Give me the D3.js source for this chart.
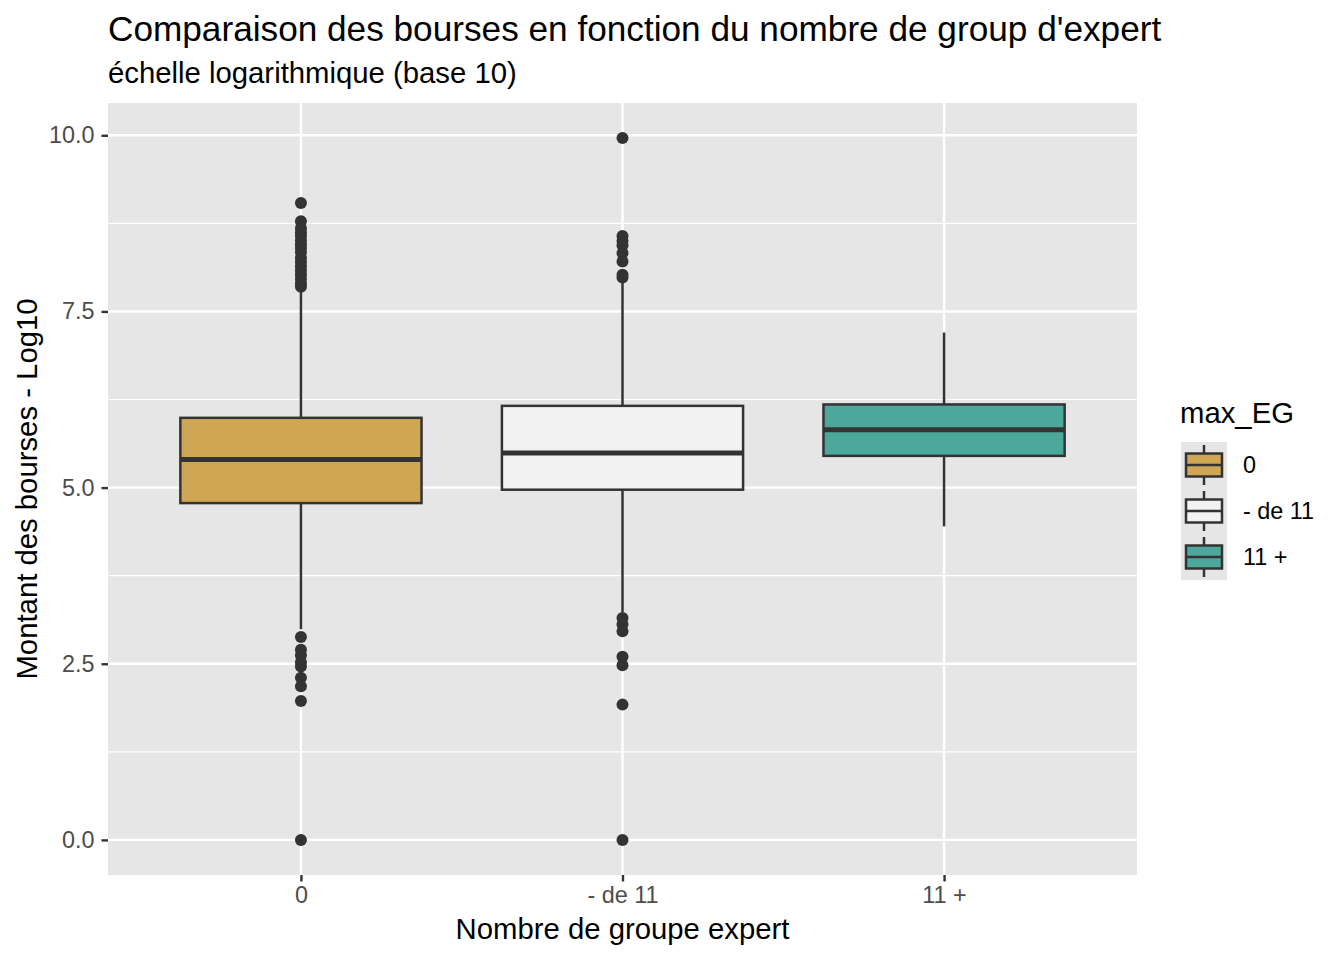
<!DOCTYPE html>
<html><head><meta charset="utf-8">
<script src="https://cdn.jsdelivr.net/npm/d3@7"></script>
<style>body{margin:0;background:#fff}svg{display:block}text{font-family:"Liberation Sans",Arial,Helvetica,sans-serif}</style>
</head><body><svg id="c" width="1344" height="960"></svg>
<script>
// ---- data ----
const categories = ["0", "- de 11", "11 +"];
const fillColors = ["#CFA654", "#F2F2F2", "#4BA89A"];
const whiskerLow = [2.99, 3.23, 4.45];
const q1 = [4.78, 4.97, 5.45];
const median = [5.40, 5.49, 5.82];
const q3 = [5.99, 6.16, 6.18];
const whiskerHigh = [7.81, 7.91, 7.20];
const outliers0 = [9.04, 8.78, 8.68, 8.62, 8.57, 8.51, 8.45, 8.40, 8.34, 8.26, 8.20, 8.14, 8.08, 8.02, 7.96, 7.90, 7.85, 2.88, 2.70, 2.62, 2.52, 2.46, 2.30, 2.18, 1.97, 0.0];
const outliers1 = [9.96, 8.57, 8.50, 8.44, 8.33, 8.21, 8.02, 7.98, 3.15, 3.06, 2.96, 2.60, 2.48, 1.92, 0.0];
const outliers2 = [];
const yTicks = [0, 2.5, 5, 7.5, 10];
const yMinor = [1.25, 3.75, 6.25, 8.75];
const title = "Comparaison des bourses en fonction du nombre de group d'expert";
const subtitle = "échelle logarithmique (base 10)";
const xTitle = "Nombre de groupe expert";
const yTitle = "Montant des bourses - Log10";
const legendTitle = "max_EG";

const outliers = [outliers0, outliers1, outliers2];
const svg = d3.select("#c");
const L = 108, R = 1137, T = 103, B = 875;
const x = d3.scalePoint().domain(categories).range([L, R]).padding(0.6);
const y = d3.scaleLinear().domain([-0.498, 10.458]).range([B, T]);
const bw = x.step() * 0.75;
const lineCol = "#333333";
const panelCol = "#E6E6E6";

// panel
svg.append("rect").attr("x", L).attr("y", T).attr("width", R - L).attr("height", B - T).attr("fill", panelCol);
const g = svg.append("g");
g.selectAll(".minor").data(yMinor).join("line")
  .attr("x1", L).attr("x2", R).attr("y1", d => y(d)).attr("y2", d => y(d))
  .attr("stroke", "#fff").attr("stroke-width", 1.2);
g.selectAll(".major").data(yTicks).join("line")
  .attr("x1", L).attr("x2", R).attr("y1", d => y(d)).attr("y2", d => y(d))
  .attr("stroke", "#fff").attr("stroke-width", 2.4);
g.selectAll(".vmajor").data(categories).join("line")
  .attr("x1", d => x(d)).attr("x2", d => x(d)).attr("y1", T).attr("y2", B)
  .attr("stroke", "#fff").attr("stroke-width", 2.4);

// boxes
categories.forEach((c, i) => {
  const cx = x(c);
  const bg = svg.append("g");
  bg.append("line").attr("x1", cx).attr("x2", cx).attr("y1", y(q3[i])).attr("y2", y(whiskerHigh[i]))
    .attr("stroke", lineCol).attr("stroke-width", 2.5);
  bg.append("line").attr("x1", cx).attr("x2", cx).attr("y1", y(q1[i])).attr("y2", y(whiskerLow[i]))
    .attr("stroke", lineCol).attr("stroke-width", 2.5);
  bg.append("rect").attr("x", cx - bw / 2).attr("width", bw)
    .attr("y", y(q3[i])).attr("height", y(q1[i]) - y(q3[i]))
    .attr("fill", fillColors[i]).attr("stroke", lineCol).attr("stroke-width", 2.5);
  bg.append("line").attr("x1", cx - bw / 2).attr("x2", cx + bw / 2).attr("y1", y(median[i])).attr("y2", y(median[i]))
    .attr("stroke", lineCol).attr("stroke-width", 5);
  bg.selectAll("circle").data(outliers[i]).join("circle")
    .attr("cx", cx).attr("cy", d => y(d)).attr("r", 6).attr("fill", lineCol);
});

// axes
const ax = svg.append("g").attr("transform", `translate(0,${B})`)
  .call(d3.axisBottom(x).tickSize(6.5).tickPadding(5));
ax.select(".domain").remove();
ax.selectAll(".tick line").attr("stroke", lineCol).attr("stroke-width", 2.4);
ax.selectAll(".tick text").attr("fill", "#4D4D4D").style("font-size", "23.4px")
  .attr("font-family", "Liberation Sans, Arial, sans-serif");

const ay = svg.append("g").attr("transform", `translate(${L},0)`)
  .call(d3.axisLeft(y).tickValues(yTicks).tickFormat(d3.format(".1f")).tickSize(6.5).tickPadding(7));
ay.select(".domain").remove();
ay.selectAll(".tick line").attr("stroke", lineCol).attr("stroke-width", 2.4);
ay.selectAll(".tick text").attr("fill", "#4D4D4D").style("font-size", "23.4px")
  .attr("font-family", "Liberation Sans, Arial, sans-serif");

// titles
svg.append("text").attr("x", L).attr("y", 41).text(title).style("font-size", "35.2px").attr("fill", "#000");
svg.append("text").attr("x", L).attr("y", 83).text(subtitle).style("font-size", "29.3px").attr("fill", "#000");
svg.append("text").attr("x", (L + R) / 2).attr("y", 939).attr("text-anchor", "middle").text(xTitle).style("font-size", "29.3px");
svg.append("text").attr("transform", `translate(37,${(T + B) / 2}) rotate(-90)`).attr("text-anchor", "middle")
  .text(yTitle).style("font-size", "29.3px");

// legend
const lg = svg.append("g");
lg.append("text").attr("x", 1180).attr("y", 423).text(legendTitle).style("font-size", "29.3px");
const keyH = 46, keyW = 46, kx = 1181, ky = 442;
categories.forEach((c, i) => {
  const top = ky + i * keyH;
  const mx = kx + keyW / 2;
  lg.append("rect").attr("x", kx).attr("y", top).attr("width", keyW).attr("height", keyH).attr("fill", panelCol);
  lg.append("line").attr("x1", mx).attr("x2", mx).attr("y1", top + 3).attr("y2", top + keyH - 3)
    .attr("stroke", lineCol).attr("stroke-width", 2.5);
  lg.append("rect").attr("x", kx + 5).attr("y", top + 11.5).attr("width", keyW - 10).attr("height", keyH - 23)
    .attr("fill", fillColors[i]).attr("stroke", lineCol).attr("stroke-width", 2.5);
  lg.append("line").attr("x1", kx + 5).attr("x2", kx + keyW - 5).attr("y1", top + keyH / 2).attr("y2", top + keyH / 2)
    .attr("stroke", lineCol).attr("stroke-width", 2.5);
  lg.append("text").attr("x", 1243).attr("y", top + keyH / 2).attr("dy", "0.35em").text(c).style("font-size", "23.4px");
});
</script></body></html>
